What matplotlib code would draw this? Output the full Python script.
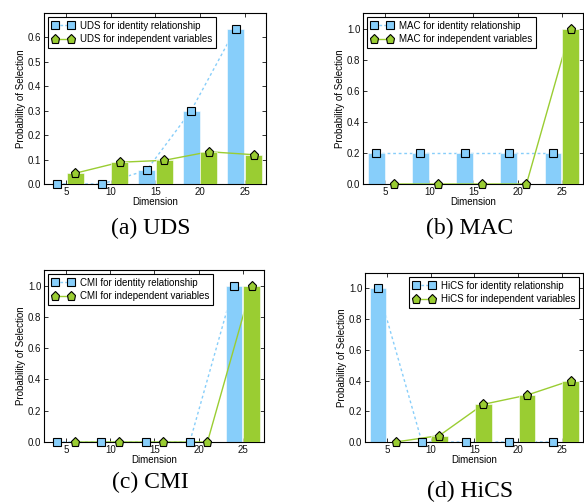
import numpy as np
import matplotlib
matplotlib.use("Agg")
import matplotlib.pyplot as plt

plt.rcParams["font.family"] = ["Liberation Sans", "DejaVu Sans"]

# ============================================
# Probability of selection per dimension
# ============================================

dimensions = [5, 10, 15, 20, 25]

uds_identity = [0.0, 0.0, 0.056, 0.30, 0.636]
uds_independent = [0.044, 0.089, 0.097, 0.132, 0.12]

mac_identity = [0.2, 0.2, 0.2, 0.2, 0.2]
mac_independent = [0.0, 0.0, 0.0, 0.0, 1.0]

cmi_identity = [0.0, 0.0, 0.0, 0.0, 1.0]
cmi_independent = [0.0, 0.0, 0.0, 0.0, 1.0]

hics_identity = [1.0, 0.0, 0.0, 0.0, 0.0]
hics_independent = [0.0, 0.042, 0.245, 0.305, 0.40]

panels = [
    ("UDS", uds_identity, uds_independent, "(a) UDS"),
    ("MAC", mac_identity, mac_independent, "(b) MAC"),
    ("CMI", cmi_identity, cmi_independent, "(c) CMI"),
    ("HiCS", hics_identity, hics_independent, "(d) HiCS"),
]

blue = "#87CEFA"
green = "#9ACD32"

W, H = 584, 504

# axes boxes in pixels: left, right, top, bottom
boxes = [
    (44, 266, 13, 184),
    (363, 583, 13, 184),
    (44, 264, 270, 442),
    (365, 583, 273, 442),
]
captions_xy = [(151, 228), (470, 228), (150, 482), (470, 491)]
legend_loc = ["upper left", "upper left", "upper left", "upper right"]
y_tops = [0.7, 1.1, 1.1, 1.1]
y_ticks = [np.arange(0, 0.61, 0.1), np.arange(0, 1.01, 0.2),
           np.arange(0, 1.01, 0.2), np.arange(0, 1.01, 0.2)]

fig = plt.figure(figsize=(W / 100, H / 100), dpi=100)

x = np.array(dimensions)

for i, (name, ident, indep, caption) in enumerate(panels):
    l, r, t, b = boxes[i]
    ax = fig.add_axes([l / W, 1 - b / H, (r - l) / W, (b - t) / H])

    ax.plot(x - 1, ident, linestyle=(0, (2, 2)), color=blue, lw=1.0, zorder=1)
    ax.bar(x - 1, ident, width=1.9, color=blue, edgecolor="white", lw=0.4, zorder=2)
    ax.plot(x + 1, indep, linestyle="-", color=green, lw=1.0, zorder=3)
    ax.bar(x + 1, indep, width=1.9, color=green, edgecolor="white", lw=0.4, zorder=4)

    ax.plot(x - 1, ident, linestyle="none", marker="s", ms=6.3, mfc=blue,
            mec="black", mew=0.8, zorder=6, clip_on=False)
    ax.plot(x + 1, indep, linestyle="none", marker="p", ms=6.8, mfc=green,
            mec="black", mew=0.8, zorder=6, clip_on=False)

    # legend proxies
    h1, = ax.plot([], [], linestyle=(0, (2, 1.5)), color=blue, lw=1.0, marker="s",
                  ms=6.3, mfc=blue, mec="black", mew=0.8)
    h2, = ax.plot([], [], linestyle="-", color=green, lw=1.0, marker="p",
                  ms=6.8, mfc=green, mec="black", mew=0.8)
    leg = ax.legend([h1, h2],
                    [f"{name} for identity relationship",
                     f"{name} for independent variables"],
                    loc=legend_loc[i], fontsize=7, numpoints=2, handlelength=2.3,
                    fancybox=False, framealpha=1, borderpad=0.4,
                    labelspacing=0.35, handletextpad=0.6, borderaxespad=0.4)
    leg.get_frame().set_edgecolor("black")
    leg.get_frame().set_linewidth(0.8)

    ax.set_xlim(2.5, 27.4)
    ax.set_ylim(0, y_tops[i])
    ax.set_xticks(dimensions)
    ax.set_yticks(y_ticks[i])
    ax.set_yticklabels([f"{v:.1f}" for v in y_ticks[i]])
    ax.tick_params(direction="in", top=True, right=True, length=3, width=0.6,
                   labelsize=7, pad=2, colors="#111111")
    for s in ax.spines.values():
        s.set_linewidth(0.8)
    ax.set_xlabel("Dimension", fontsize=7, labelpad=0)
    ax.set_ylabel("Probability of Selection", fontsize=7, labelpad=1)

    cx, cy = captions_xy[i]
    fig.text(cx / W, 1 - cy / H, caption, ha="center", va="center",
             fontsize=17, family="Liberation Serif")

fig.savefig("out.png", dpi=100)
